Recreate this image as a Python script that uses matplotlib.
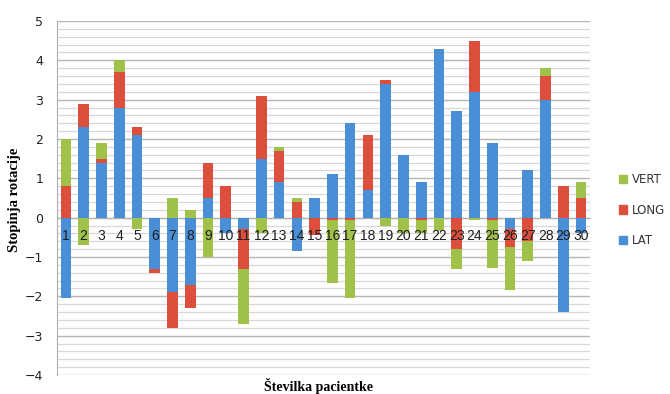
import matplotlib
matplotlib.use("Agg")
import matplotlib.pyplot as plt
from matplotlib.patches import Patch
import matplotlib.transforms as mtransforms
import numpy as np

# Rotation components per patient (degrees)
patients = [str(i) for i in range(1, 31)]
lat = [-2.05, 2.3, 1.4, 2.8, 2.1, -1.3, -1.9, -1.7, 0.5, -0.4,
       -0.3, 1.5, 0.9, -0.85, 0.5, 1.1, 2.4, 0.7, 3.4, 1.6,
       0.9, 4.3, 2.7, 3.2, 1.9, -0.3, 1.2, 3.0, -2.4, -0.4]
long_ = [0.8, 0.6, 0.1, 0.9, 0.2, -0.1, -0.9, -0.6, 0.9, 0.8,
         -1.0, 1.6, 0.8, 0.4, -0.45, -0.05, -0.05, 1.4, 0.1, 0.0,
         -0.05, 0.0, -0.8, 1.3, -0.07, -0.45, -0.6, 0.6, 0.8, 0.5]
vert = [1.2, -0.7, 0.4, 0.3, -0.3, 0.0, 0.5, 0.2, -1.0, 0.0,
        -1.4, -0.4, 0.1, 0.1, 0.0, -1.6, -2.0, 0.0, -0.2, -0.4,
        -0.35, -0.35, -0.5, -0.05, -1.2, -1.1, -0.5, 0.2, 0.0, 0.4]

series = [("LAT", lat, "#4a8fd5"), ("LONG", long_, "#dc4f3d"), ("VERT", vert, "#a0c24a")]

fig = plt.figure(figsize=(6.7, 3.94), dpi=100)
ax = fig.add_axes([57 / 670, 1 - 375 / 394, (590 - 57) / 670, (375 - 21) / 394])

x = np.arange(len(patients))
pos_base = np.zeros(len(patients))
neg_base = np.zeros(len(patients))
for name, vals, color in series:
    v = np.array(vals, dtype=float)
    bottoms = np.where(v >= 0, pos_base, neg_base)
    ax.bar(x, v, width=0.6, bottom=bottoms, color=color, zorder=3)
    pos_base += np.clip(v, 0, None)
    neg_base += np.clip(v, None, 0)

ax.set_xlim(-0.5, len(patients) - 0.5)
ax.set_ylim(-4, 5)
ax.set_yticks(np.arange(-4, 6, 1))
ax.set_yticks(np.arange(-4, 5.01, 0.2), minor=True)
ax.grid(axis="y", which="major", color="#b5b5b5", linewidth=1.0, zorder=0)
ax.grid(axis="y", which="minor", color="#d8d8d8", linewidth=0.9, zorder=0)

# category labels sit just under the zero line, drawn over the bars
ax.set_xticks(x)
ax.set_xticklabels([])
ax.tick_params(axis="x", length=0)
label_offset = mtransforms.offset_copy(ax.transData, fig=fig, x=0, y=-8, units="points")
for xi, lab in zip(x, patients):
    ax.text(xi, 0, lab, transform=label_offset, ha="center", va="top", fontsize=10,
            color="#1e1e1e", fontfamily="Liberation Sans", zorder=6)

ax.tick_params(axis="y", which="both", length=0, labelsize=9, labelcolor="#222222", pad=10)

for s in ["top", "right"]:
    ax.spines[s].set_visible(False)
ax.spines["bottom"].set_position(("data", 0))
ax.spines["bottom"].set_color("#b0b0b0")
ax.spines["left"].set_color("#b0b0b0")

fig.text(15 / 670, 1 - 200 / 394, "Stopinja rotacije", rotation=90, ha="center", va="center",
         fontsize=10.5, fontweight="bold", fontfamily="Liberation Serif")
fig.text(318 / 670, 1 - 386 / 394, "Številka pacientke", ha="center", va="center",
         fontsize=10, fontweight="bold", fontfamily="Liberation Serif")

handles = [Patch(color=c, label=n) for n, _, c in series[::-1]]
fig.legend(handles=handles, loc="center left", bbox_to_anchor=(608 / 670, 1 - 210 / 394),
           frameon=False, fontsize=8.5, handlelength=0.7, handleheight=0.7,
           handletextpad=0.4, labelspacing=1.5, labelcolor="#333333")

fig.savefig("out.png", dpi=100, facecolor="white")
